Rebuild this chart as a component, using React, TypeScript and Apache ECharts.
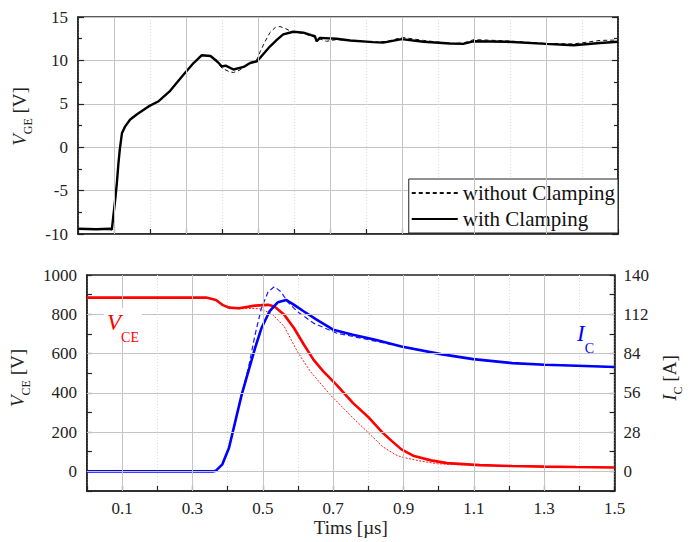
import React, { useEffect, useRef } from 'react';
import * as echarts from 'echarts';

const FONT = '"Liberation Serif", "Times New Roman", Times, serif';

// ---------- Top plot: V_GE ----------
const tVgeWith = [0, 0.05, 0.09, 0.094, 0.098, 0.104, 0.108, 0.112, 0.116, 0.122, 0.131, 0.145, 0.164, 0.196, 0.224, 0.256, 0.294, 0.321, 0.344, 0.368, 0.386, 0.40, 0.41, 0.432, 0.46, 0.478, 0.497, 0.506, 0.533, 0.553, 0.570, 0.598, 0.626, 0.648, 0.658, 0.663, 0.672, 0.718, 0.756, 0.82, 0.848, 0.899, 0.96, 1.033, 1.07, 1.098, 1.19, 1.30, 1.376, 1.45, 1.5];
const vgeWith = [-9.4, -9.45, -9.4, -9.5, -8.0, -5.8, -4.1, -2.0, -0.3, 1.6, 2.4, 3.2, 3.8, 4.7, 5.3, 6.5, 8.4, 9.7, 10.6, 10.5, 9.9, 9.3, 9.4, 8.95, 9.25, 9.7, 9.9, 10.3, 11.6, 12.4, 13.0, 13.3, 13.2, 12.9, 12.8, 12.2, 12.6, 12.5, 12.3, 12.1, 12.05, 12.45, 12.15, 11.95, 11.9, 12.2, 12.15, 11.9, 11.75, 12.0, 12.15];

const tVgeWithout = [0, 0.05, 0.09, 0.094, 0.098, 0.104, 0.108, 0.112, 0.116, 0.122, 0.131, 0.145, 0.164, 0.196, 0.224, 0.256, 0.294, 0.321, 0.344, 0.368, 0.386, 0.40, 0.42, 0.432, 0.45, 0.46, 0.478, 0.497, 0.506, 0.52, 0.533, 0.548, 0.561, 0.575, 0.589, 0.61, 0.626, 0.648, 0.67, 0.69, 0.718, 0.756, 0.82, 0.86, 0.9, 0.96, 1.033, 1.07, 1.1, 1.19, 1.3, 1.376, 1.45, 1.5];
const vgeWithout = [-9.4, -9.45, -9.4, -9.5, -8.0, -5.8, -4.1, -2.0, -0.3, 1.6, 2.4, 3.2, 3.8, 4.7, 5.3, 6.5, 8.4, 9.7, 10.6, 10.5, 9.8, 9.1, 8.7, 8.6, 8.9, 9.2, 9.7, 10.1, 11.0, 12.2, 13.2, 13.8, 13.9, 13.7, 13.4, 13.2, 13.1, 12.8, 12.5, 12.2, 12.4, 12.3, 12.1, 12.2, 12.65, 12.3, 11.95, 12.0, 12.4, 12.25, 11.95, 11.9, 12.3, 12.35];

// ---------- Bottom plot: V_CE and I_C ----------
const tVceWith = [0, 0.2, 0.339, 0.367, 0.385, 0.404, 0.432, 0.478, 0.515, 0.533, 0.561, 0.589, 0.617, 0.644, 0.672, 0.709, 0.756, 0.802, 0.839, 0.867, 0.894, 0.93, 0.978, 1.024, 1.117, 1.209, 1.3, 1.39, 1.5];
const vceWith = [885, 885, 885, 873, 848, 834, 831, 844, 848, 839, 797, 729, 645, 569, 509, 442, 349, 273, 200, 154, 112, 78, 56, 42, 32, 27, 24, 22, 20];

const tVceWithout = [0, 0.2, 0.339, 0.367, 0.385, 0.404, 0.432, 0.46, 0.49, 0.524, 0.561, 0.598, 0.635, 0.691, 0.756, 0.82, 0.839, 0.876, 0.894, 0.95, 0.996, 1.07, 1.117, 1.209, 1.3, 1.39, 1.5];
const vceWithout = [885, 885, 885, 873, 848, 834, 828, 830, 828, 805, 738, 611, 509, 391, 273, 162, 128, 86, 73, 52, 39, 33, 31, 27, 24, 22, 20];

const tIcWith = [0, 0.36, 0.367, 0.385, 0.404, 0.422, 0.44, 0.459, 0.478, 0.496, 0.519, 0.543, 0.566, 0.589, 0.617, 0.654, 0.7, 0.756, 0.82, 0.894, 1.006, 1.098, 1.209, 1.302, 1.394, 1.5];
const icWith = [0, 0, 0.5, 5, 16.8, 35.8, 54.7, 71.3, 87.9, 102, 114, 120.6, 122.2, 118.7, 114, 108, 101, 97.4, 93.8, 89, 83.6, 80, 77.2, 76, 75.3, 74.4];

const tIcWithout = [0, 0.36, 0.367, 0.385, 0.404, 0.422, 0.44, 0.459, 0.478, 0.496, 0.515, 0.533, 0.552, 0.57, 0.598, 0.644, 0.709, 0.802, 0.894, 1.006, 1.098, 1.209, 1.302, 1.394, 1.5];
const icWithout = [0, 0, 0.5, 5, 16.8, 35.8, 54.7, 73.7, 97.4, 116.3, 128, 131.7, 128, 121, 114, 105.7, 98.6, 93.8, 89, 83.6, 80, 77.2, 76, 75.3, 74.4];

// ---------- Axis / grid values ----------
const xMajorGrid = [0.1, 0.3, 0.5, 0.7, 0.9, 1.1, 1.3];
const vceGridLines = [0, 200, 400, 600, 800];
const legendNames = ['without Clamping', 'with Clamping'];

const zip = (t: number[], v: number[]) => t.map((x, i) => [x, v[i]]);

const AX = '#222';
const GRID_SOLID = '#c4c4c4';

const tickLabel = {
  fontFamily: FONT,
  fontSize: 17,
  color: AX,
};

function nameRich(mainSize: number, subSize: number, subPad: number) {
  return {
    i: { fontFamily: FONT, fontStyle: 'italic', fontSize: mainSize, color: AX, lineHeight: mainSize + 3, verticalAlign: 'top' },
    s: { fontFamily: FONT, fontSize: subSize, color: AX, lineHeight: subSize, verticalAlign: 'top', padding: [subPad, 0, 0, 0] },
    n: { fontFamily: FONT, fontSize: mainSize, color: AX, lineHeight: mainSize + 3, verticalAlign: 'top' },
  };
}

function xAxis(gridIndex: number, showLabels: boolean, name?: string) {
  return {
    type: 'value',
    gridIndex,
    min: 0,
    max: 1.5,
    interval: 0.1,
    name: name || '',
    nameLocation: 'middle',
    nameGap: 27,
    nameTextStyle: { fontFamily: FONT, fontSize: 19, color: AX },
    axisLine: { show: true, onZero: false, lineStyle: { color: AX, width: 1.5 } },
    axisTick: { show: true, inside: true, length: 5, lineStyle: { color: AX, width: 1.2 } },
    axisLabel: {
      show: showLabels,
      ...tickLabel,
      margin: 9,
      showMinLabel: true,
      showMaxLabel: true,
      formatter: (v: number) => {
        const k = Math.round(v * 10);
        return k % 2 === 1 ? (k / 10).toFixed(1) : '';
      },
    },
    splitLine: { show: true, lineStyle: { color: '#dcdcdc', width: 1, type: [1, 2] } },
  };
}

export default function App() {
  const ref = useRef<HTMLDivElement>(null);

  useEffect(() => {
    if (!ref.current) return;
    const chart = echarts.init(ref.current, undefined, { renderer: 'svg' });

    const option: any = {
      animation: false,
      backgroundColor: '#fff',
      textStyle: { fontFamily: FONT },
      grid: [
        { left: 78, top: 17, width: 540, height: 217, show: true, borderColor: AX, borderWidth: 1.5, containLabel: false },
        { left: 78, top: 275, width: 540, height: 216, show: true, borderColor: AX, borderWidth: 1.5, containLabel: false },
      ],
      legend: {
        data: legendNames,
        orient: 'vertical',
        right: 74,
        top: 179,
        align: 'left',
        selectedMode: false,
        backgroundColor: '#fff',
        borderColor: AX,
        borderWidth: 1,
        padding: [2, 3, 2, 2],
        itemGap: 2,
        itemWidth: 46,
        itemHeight: 14,
        itemStyle: { opacity: 0, borderWidth: 0 },
        textStyle: { fontFamily: FONT, fontSize: 21, color: '#111', lineHeight: 24, padding: [0, 0, 0, 0] },
      },
      xAxis: [xAxis(0, false), xAxis(1, true, 'Tims [µs]')],
      yAxis: [
        {
          type: 'value', gridIndex: 0, min: -10, max: 15, interval: 5, position: 'left',
          name: '{i|V}{s|GE}{n| [V]}',
          nameLocation: 'middle', nameRotate: 90, nameGap: 24,
          nameTextStyle: { rich: nameRich(19, 12, 12), padding: [0, 0, 0, 18] },
          axisLine: { show: true, lineStyle: { color: AX, width: 1.5 } },
          axisTick: { show: true, inside: true, length: 6, lineStyle: { color: AX, width: 1.2 } },
          minorTick: { show: true, splitNumber: 2, length: 4, lineStyle: { color: AX, width: 1.2 } },
          axisLabel: { ...tickLabel, margin: 10, showMinLabel: true, showMaxLabel: true },
          splitLine: { show: true, lineStyle: { color: GRID_SOLID, width: 1 } },
        },
        {
          type: 'value', gridIndex: 0, min: -10, max: 15, interval: 5, position: 'right',
          axisLine: { show: true, lineStyle: { color: AX, width: 1.5 } },
          axisTick: { show: true, inside: true, length: 6, lineStyle: { color: AX, width: 1.2 } },
          minorTick: { show: true, splitNumber: 2, length: 4, lineStyle: { color: AX, width: 1.2 } },
          axisLabel: { show: false },
          splitLine: { show: false },
        },
        {
          type: 'value', gridIndex: 1, min: -100, max: 1000, interval: 100, position: 'left',
          name: '{i|V}{s|CE}{n| [V]}',
          nameLocation: 'middle', nameRotate: 90, nameGap: 46,
          nameTextStyle: { rich: nameRich(19, 12, 12), padding: [0, 0, 0, 10] },
          axisLine: { show: true, lineStyle: { color: AX, width: 1.5 } },
          axisTick: { show: true, inside: true, length: 5, lineStyle: { color: AX, width: 1.2 } },
          axisLabel: {
            ...tickLabel, margin: 10, showMinLabel: true, showMaxLabel: true,
            formatter: (v: number) => (v >= 0 && Math.round(v) % 200 === 0 ? String(Math.round(v)) : ''),
          },
          splitLine: { show: false },
        },
        {
          type: 'value', gridIndex: 1, min: -14, max: 140, interval: 14, position: 'right',
          name: '{i|I}{s|C}{n| [A]}',
          nameLocation: 'middle', nameRotate: 90, nameGap: 40,
          nameTextStyle: { rich: nameRich(19, 12, 12), padding: [0, 0, 0, 10] },
          axisLine: { show: true, lineStyle: { color: AX, width: 1.5 } },
          axisTick: { show: true, inside: true, length: 5, lineStyle: { color: AX, width: 1.2 } },
          axisLabel: {
            ...tickLabel, margin: 9, showMinLabel: true, showMaxLabel: true,
            formatter: (v: number) => (v >= 0 && Math.round(v) % 28 === 0 ? String(Math.round(v)) : ''),
          },
          splitLine: { show: false },
        },
      ],
      graphic: [
        {
          type: 'text', left: 104, top: 308, z: 50,
          style: {
            text: '{i|V}{s|CE}',
            backgroundColor: '#fff',
            padding: [3, 3, 1, 3],
            rich: {
              i: { fontFamily: FONT, fontStyle: 'italic', fontSize: 23, fill: '#ff0000', lineHeight: 26, verticalAlign: 'top' },
              s: { fontFamily: FONT, fontSize: 14, fill: '#ff0000', lineHeight: 14, verticalAlign: 'top', padding: [19, 0, 0, 0] },
            },
          },
        },
        {
          type: 'text', left: 574, top: 320, z: 50,
          style: {
            text: '{i|I}{s|C}',
            backgroundColor: '#fff',
            padding: [2, 3, 2, 3],
            rich: {
              i: { fontFamily: FONT, fontStyle: 'italic', fontSize: 23, fill: '#0000ff', lineHeight: 26, verticalAlign: 'top' },
              s: { fontFamily: FONT, fontSize: 14, fill: '#0000ff', lineHeight: 14, verticalAlign: 'top', padding: [19, 0, 0, 0] },
            },
          },
        },
      ],
      series: [
        {
          type: 'line', xAxisIndex: 0, yAxisIndex: 0, data: [], z: 1, silent: true,
          markLine: {
            silent: true, symbol: ['none', 'none'], label: { show: false },
            lineStyle: { color: GRID_SOLID, width: 1, type: 'solid' },
            data: xMajorGrid.map((x) => ({ xAxis: x })),
          },
        },
        {
          type: 'line', xAxisIndex: 1, yAxisIndex: 2, data: [], z: 1, silent: true,
          markLine: {
            silent: true, symbol: ['none', 'none'], label: { show: false },
            lineStyle: { color: GRID_SOLID, width: 1, type: 'solid' },
            data: [
              ...xMajorGrid.map((x) => ({ xAxis: x })),
              ...vceGridLines.map((y) => ({ yAxis: y })),
            ],
          },
        },
        {
          name: 'without Clamping', type: 'line', xAxisIndex: 0, yAxisIndex: 0,
          data: zip(tVgeWithout, vgeWithout), symbol: 'none', showSymbol: false, z: 3,
          lineStyle: { color: '#111', width: 1, type: [4, 3] }, itemStyle: { color: '#111' },
        },
        {
          name: 'with Clamping', type: 'line', xAxisIndex: 0, yAxisIndex: 0,
          data: zip(tVgeWith, vgeWith), symbol: 'none', showSymbol: false, z: 4,
          lineStyle: { color: '#000', width: 2.4, type: 'solid' }, itemStyle: { color: '#000' },
        },
        {
          name: 'VCE without', type: 'line', xAxisIndex: 1, yAxisIndex: 2,
          data: zip(tVceWithout, vceWithout), symbol: 'none', showSymbol: false, z: 3,
          lineStyle: { color: '#ff1a1a', width: 1, type: [2, 1.5] },
        },
        {
          name: 'IC without', type: 'line', xAxisIndex: 1, yAxisIndex: 3,
          data: zip(tIcWithout, icWithout), symbol: 'none', showSymbol: false, z: 3,
          lineStyle: { color: '#1a1aff', width: 1.2, type: [5, 3] },
        },
        {
          name: 'VCE with', type: 'line', xAxisIndex: 1, yAxisIndex: 2,
          data: zip(tVceWith, vceWith), symbol: 'none', showSymbol: false, z: 4,
          lineStyle: { color: '#ff0000', width: 2.6 },
        },
        {
          name: 'IC with', type: 'line', xAxisIndex: 1, yAxisIndex: 3,
          data: zip(tIcWith, icWith), symbol: 'none', showSymbol: false, z: 4,
          lineStyle: { color: '#0000ff', width: 2.6 },
        },
      ],
    };

    chart.setOption(option);
    return () => {
      chart.dispose();
    };
  }, []);

  return (
    <div
      ref={ref}
      style={{ position: 'absolute', left: 0, top: 0, width: 692, height: 542, background: '#fff' }}
    />
  );
}
